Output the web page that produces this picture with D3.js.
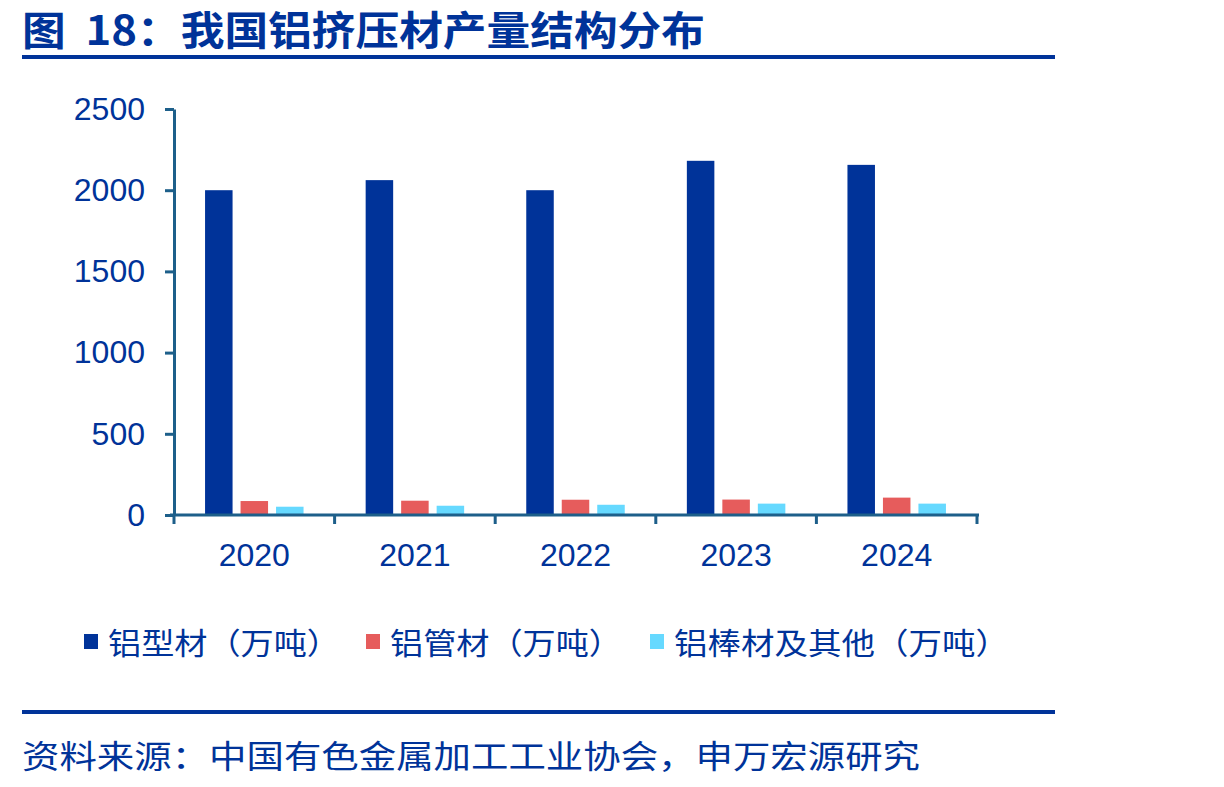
<!DOCTYPE html>
<html>
<head>
<meta charset="utf-8">
<title>我国铝挤压材产量结构分布</title>
<script src="https://cdn.jsdelivr.net/npm/d3@7"></script>
<style>
	body { margin: 0; background: #fff; }
	svg text { font-family: "Liberation Sans", Arial, "Noto Sans CJK SC", sans-serif; }
	.cjk { font-family: "Noto Sans CJK SC", sans-serif; }
</style>
</head>
<body>
<div id="chart"></div>
<script>
// data (万吨)
var years = ["2020", "2021", "2022", "2023", "2024"];
var seriesNames = ["铝型材（万吨）", "铝管材（万吨）", "铝棒材及其他（万吨）"];
var profiles = [2000, 2062, 2000, 2181, 2156];
var tubes = [86, 88, 94, 95, 107];
var rods = [51, 57, 63, 70, 70];
var yTicks = [0, 500, 1000, 1500, 2000, 2500];
var colors = ["#003399", "#E65C5C", "#66D9FF"];

var width = 1224, height = 787;
var blue = "#003399", axisColor = "#1D5F8A";

var svg = d3.select("#chart").append("svg")
	.attr("width", width)
	.attr("height", height);

// title
svg.append("text")
	.attr("class", "cjk")
	.attr("x", 22).attr("y", 45)
	.attr("fill", blue)
	.style("font-size", "40px")
	.style("font-weight", "bold")
	.attr("textLength", 683)
	.attr("lengthAdjust", "spacingAndGlyphs")
	.attr("xml:space", "preserve")
	.text("图  18：我国铝挤压材产量结构分布");

svg.append("line")
	.attr("x1", 22).attr("x2", 1055).attr("y1", 57).attr("y2", 57)
	.attr("stroke", blue).attr("stroke-width", 4);

// scales
var x0 = d3.scaleBand().domain(years).range([174, 977]);
var x1 = d3.scaleBand().domain([0, 1, 2])
	.range([0, x0.bandwidth()])
	.paddingInner(0.225)
	.paddingOuter(0.875);
var y = d3.scaleLinear().domain([0, 2500]).range([515, 109]);

var series = [profiles, tubes, rods];

var groups = svg.append("g").selectAll("g")
	.data(years)
	.enter().append("g")
	.attr("transform", function(d) { return "translate(" + x0(d) + ",0)"; });

groups.selectAll("rect")
	.data(function(d, i) { return series.map(function(s, k) { return {k: k, v: s[i]}; }); })
	.enter().append("rect")
	.attr("x", function(d) { return x1(d.k); })
	.attr("width", x1.bandwidth())
	.attr("y", function(d) { return y(d.v); })
	.attr("height", function(d) { return y(0) - y(d.v); })
	.attr("fill", function(d) { return colors[d.k]; });

// y axis
var yAxis = svg.append("g")
	.attr("transform", "translate(174,0)")
	.call(d3.axisLeft(y).tickValues(yTicks).tickFormat(d3.format("d"))
		.tickSize(9).tickPadding(20).tickSizeOuter(0));
yAxis.select(".domain").attr("stroke", axisColor).attr("stroke-width", 3);
yAxis.selectAll(".tick line").attr("stroke", axisColor).attr("stroke-width", 3);
yAxis.selectAll("text").attr("fill", blue).style("font-size", "32px")
	.style("font-family", "'Liberation Sans', Arial, sans-serif");

// x axis
var xTickPos = d3.scaleLinear().domain([0, years.length]).range([174, 977]);
var xAxis = svg.append("g")
	.attr("transform", "translate(0,515)")
	.call(d3.axisBottom(x0).tickSize(0).tickPadding(28).tickSizeOuter(0));
xAxis.select(".domain").attr("stroke", axisColor).attr("stroke-width", 3)
	.attr("d", "M170,0H979");
xAxis.selectAll("text").attr("fill", blue).style("font-size", "32px")
	.style("font-family", "'Liberation Sans', Arial, sans-serif");
xAxis.selectAll(".sep")
	.data(d3.range(years.length + 1))
	.enter().append("line")
	.attr("class", "sep")
	.attr("x1", function(d) { return xTickPos(d); })
	.attr("x2", function(d) { return xTickPos(d); })
	.attr("y1", 0).attr("y2", 9)
	.attr("stroke", axisColor).attr("stroke-width", 3);

// legend
var legendX = [84, 366, 650];
var legendW = [232, 232, 335];
var legend = svg.append("g").selectAll("g")
	.data(seriesNames)
	.enter().append("g")
	.attr("transform", function(d, i) { return "translate(" + legendX[i] + ",634)"; });
legend.append("rect")
	.attr("width", 14).attr("height", 15)
	.attr("fill", function(d, i) { return colors[i]; });
legend.append("text")
	.attr("class", "cjk")
	.attr("x", 24).attr("y", 20)
	.attr("fill", blue)
	.style("font-size", "30px")
	.attr("textLength", function(d, i) { return legendW[i]; })
	.attr("lengthAdjust", "spacingAndGlyphs")
	.text(function(d) { return d; });

svg.append("line")
	.attr("x1", 22).attr("x2", 1055).attr("y1", 712).attr("y2", 712)
	.attr("stroke", blue).attr("stroke-width", 4);

// source
svg.append("text")
	.attr("class", "cjk")
	.attr("x", 22).attr("y", 768)
	.attr("fill", blue)
	.style("font-size", "32px")
	.attr("textLength", 898)
	.attr("lengthAdjust", "spacingAndGlyphs")
	.text("资料来源：中国有色金属加工工业协会，申万宏源研究");
</script>
</body>
</html>
